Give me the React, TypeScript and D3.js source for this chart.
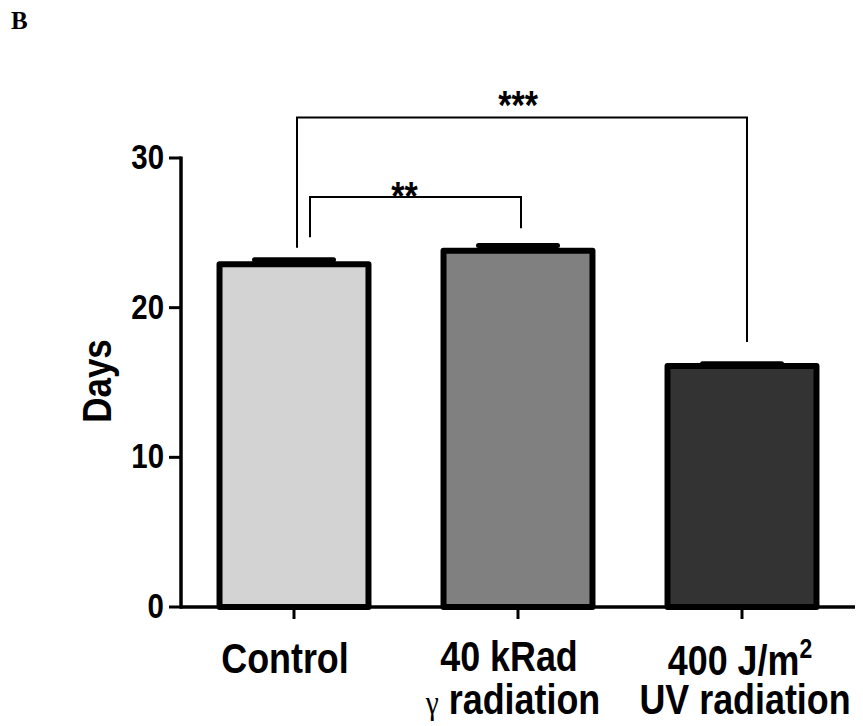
import React from "react";
import * as d3 from "d3";

const categories = ["Control", "40 kRad", "400 J/m2"];
const means = [22.9, 23.8, 16.1];
const sems = [0.3, 0.35, 0.15];
const fills = ["#d3d3d3", "#808080", "#333333"];
const yTicks = [0, 10, 20, 30];
const comparisons = [
  { from: 0, to: 1, label: "**", level: 27.4, leftEnd: 24.7, rightEnd: 25.3, dl: 16, dr: 3, dy: 13, dx: -11 },
  { from: 0, to: 2, label: "***", level: 32.7, leftEnd: 24.0, rightEnd: 17.7, dl: 3, dr: 5, dy: 1, dx: -4 },
];

const W = 863;
const H = 726;
const sans = "'Liberation Sans', Arial, sans-serif";
const serif = "'Liberation Serif', 'Times New Roman', serif";
const SX = 0.92;
const SY = 1.08;

function T({ x, y, anchor = "middle", size, children, rotate = 0 }: any) {
  return (
    <text
      transform={`translate(${x},${y}) rotate(${rotate}) scale(${SX},${SY})`}
      textAnchor={anchor}
      fontFamily={sans}
      fontWeight="bold"
      fontSize={size}
    >
      {children}
    </text>
  );
}

export default function App() {
  const y = d3.scaleLinear().domain([0, 30]).range([607, 158]);
  const x = d3
    .scaleBand<string>()
    .domain(categories)
    .range([182, 854])
    .paddingInner(0.335)
    .paddingOuter(0.1675);
  const bw = x.bandwidth();
  const cx = (i: number) => (x(categories[i]) as number) + bw / 2;
  const capW = 79;

  const labelLine = (i: number) => {
    const c = cx(i);
    if (i === 0)
      return (
        <T x={c - 9} y={673} size={39}>
          Control
        </T>
      );
    if (i === 1)
      return (
        <g>
          <T x={c - 9} y={671} size={39}>
            40 kRad
          </T>
          <T x={c - 5} y={714} size={39}>
            <tspan fontFamily={serif} fontWeight="normal" fontSize={32}>γ</tspan>
            <tspan> radiation</tspan>
          </T>
        </g>
      );
    return (
      <g>
        <T x={c - 2} y={675} size={39}>
          400 J/m
          <tspan fontSize={25} dy={-16}>2</tspan>
        </T>
        <T x={c + 3} y={714} size={39}>
          UV radiation
        </T>
      </g>
    );
  };

  return (
    <svg width={W} height={H} style={{ position: "absolute", left: 0, top: 0, background: "#fff" }}>
      <rect x={0} y={0} width={W} height={H} fill="#fff" />
      <text x={11} y={29} fontFamily={serif} fontWeight="bold" fontSize={25}>
        B
      </text>

      {/* bars */}
      {categories.map((c, i) => (
        <g key={c}>
          <line
            x1={cx(i) - capW / 2}
            x2={cx(i) + capW / 2}
            y1={y(means[i] + sems[i])}
            y2={y(means[i] + sems[i])}
            stroke="#000"
            strokeWidth={5}
            strokeLinecap="round"
          />
          <line x1={cx(i)} x2={cx(i)} y1={y(means[i])} y2={y(means[i] + sems[i])} stroke="#000" strokeWidth={3} />
          <rect
            x={x(c)}
            y={y(means[i])}
            width={bw}
            height={y(0) - y(means[i])}
            fill={fills[i]}
            stroke="#000"
            strokeWidth={6}
            strokeLinejoin="round"
          />
        </g>
      ))}

      {/* y axis */}
      <line x1={181} x2={181} y1={y(30) - 1.5} y2={y(0) + 1.5} stroke="#000" strokeWidth={3.5} />
      {yTicks.map((t) => (
        <g key={t}>
          <line x1={169} x2={181} y1={y(t)} y2={y(t)} stroke="#000" strokeWidth={3} />
          <T x={164} y={y(t) + 11} anchor="end" size={32}>
            {t}
          </T>
        </g>
      ))}
      <T x={111} y={381} size={38} rotate={-90}>
        Days
      </T>

      {/* x axis */}
      <line x1={180} x2={855} y1={y(0)} y2={y(0)} stroke="#000" strokeWidth={3.5} />
      {categories.map((c, i) => (
        <line key={c} x1={cx(i)} x2={cx(i)} y1={y(0)} y2={y(0) + 12} stroke="#000" strokeWidth={3} />
      ))}
      {categories.map((c, i) => (
        <g key={c}>{labelLine(i)}</g>
      ))}

      {/* significance brackets */}
      {comparisons.map((cmp) => {
        const xl = cx(cmp.from) + cmp.dl;
        const xr = cx(cmp.to) + cmp.dr;
        const yl = y(cmp.level);
        return (
          <g key={cmp.label}>
            <path
              d={`M${xl},${y(cmp.leftEnd)}V${yl}H${xr}V${y(cmp.rightEnd)}`}
              fill="none"
              stroke="#000"
              strokeWidth={2}
            />
            <T x={(xl + xr) / 2 + cmp.dx} y={yl + cmp.dy} size={37}>
              {cmp.label}
            </T>
          </g>
        );
      })}
    </svg>
  );
}
